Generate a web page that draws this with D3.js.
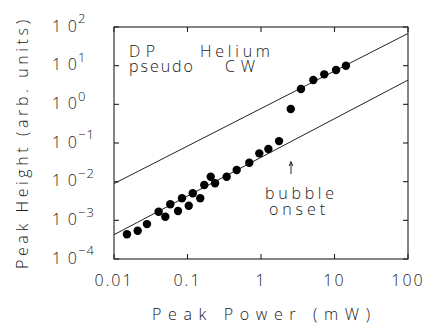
<!DOCTYPE html>
<html>
<head>
<meta charset="utf-8">
<script src="https://cdn.jsdelivr.net/npm/d3@7"></script>
<style>
  body { margin: 0; background: #fff; }
  svg { display: block; }
  text { font-family: "Open Sans", "DejaVu Sans", sans-serif; font-weight: 300; fill: #1a1a1a; }
</style>
</head>
<body>
<div id="chart"></div>
<script>
// peak power (mW) and peak height (arb. units)
var power = [0.0150, 0.0210, 0.0281, 0.0405, 0.0499, 0.0583, 0.0743, 0.0841, 0.104, 0.118,
             0.149, 0.169, 0.207, 0.237, 0.341, 0.467, 0.693, 0.948, 1.26, 1.76,
             2.54, 3.50, 5.15, 7.26, 10.5, 14.3];
var height = [4.36e-4, 5.40e-4, 8.0e-4, 1.67e-3, 1.24e-3, 2.60e-3, 1.74e-3, 3.72e-3, 2.39e-3, 5.0e-3,
              3.72e-3, 8.2e-3, 0.0134, 9.1e-3, 0.0134, 0.0200, 0.0309, 0.054, 0.070, 0.112,
              0.757, 2.49, 4.26, 5.97, 7.72, 9.98];

// the two guide lines (endpoints)
var upperLine = [[0.01, 0.0089], [100, 68]];
var lowerLine = [[0.01, 4.25e-4], [100, 4.25]];

var xTicks = [0.01, 0.1, 1, 10, 100];
var xTickLabels = ["0.01", "0.1", "1", "10", "100"];
var yExponents = [-4, -3, -2, -1, 0, 1, 2];

var W = 430, H = 324;
var margin = { left: 114, right: 22, top: 27, bottom: 65 };
var iw = W - margin.left - margin.right;
var ih = H - margin.top - margin.bottom;

var svg = d3.select("#chart").append("svg")
    .attr("width", W)
    .attr("height", H);

var x = d3.scaleLog().domain([0.01, 100]).range([margin.left, margin.left + iw]);
var y = d3.scaleLog().domain([1e-4, 1e2]).range([margin.top + ih, margin.top]);

// ticks on all four sides, pointing in
var tickLen = 5;
var ax = svg.append("g").attr("stroke", "#222").attr("stroke-width", 1.1);
xTicks.forEach(function (t) {
    ax.append("line").attr("x1", x(t)).attr("x2", x(t))
        .attr("y1", margin.top + ih).attr("y2", margin.top + ih - tickLen);
    ax.append("line").attr("x1", x(t)).attr("x2", x(t))
        .attr("y1", margin.top).attr("y2", margin.top + tickLen);
});
yExponents.forEach(function (e) {
    var v = Math.pow(10, e);
    ax.append("line").attr("x1", margin.left).attr("x2", margin.left + tickLen)
        .attr("y1", y(v)).attr("y2", y(v));
    ax.append("line").attr("x1", margin.left + iw).attr("x2", margin.left + iw - tickLen)
        .attr("y1", y(v)).attr("y2", y(v));
});
ax.append("rect")
    .attr("x", margin.left).attr("y", margin.top)
    .attr("width", iw).attr("height", ih)
    .attr("fill", "none");

// x tick labels
svg.selectAll(".xlab")
    .data(xTicks)
    .enter().append("text")
    .attr("class", "xlab")
    .attr("x", function (d) { return x(d); })
    .attr("y", 286)
    .attr("text-anchor", "middle")
    .style("font-size", "16px")
    .style("letter-spacing", "2px")
    .text(function (d, i) { return xTickLabels[i]; });

// y tick labels: 10 with superscript exponent
var ylab = svg.selectAll(".ylab")
    .data(yExponents)
    .enter().append("g")
    .attr("class", "ylab");
ylab.append("text")
    .attr("x", 77)
    .attr("y", function (d) { return y(Math.pow(10, d)) + 4.7; })
    .attr("text-anchor", "end")
    .attr("textLength", 25)
    .style("font-size", "16px")
    .text("10");
ylab.append("text")
    .attr("x", 78)
    .attr("y", function (d) { return y(Math.pow(10, d)) - 3.7; })
    .style("font-size", "13px")
    .style("letter-spacing", "1px")
    .text(function (d) { return d < 0 ? "\u2212" + (-d) : String(d); });

// axis titles
svg.append("text")
    .attr("x", 261).attr("y", 320)
    .attr("text-anchor", "middle")
    .attr("textLength", 218)
    .style("font-size", "16px")
    .text("Peak Power (mW)");
svg.append("text")
    .attr("transform", "translate(28,144.5) rotate(-90)")
    .attr("text-anchor", "middle")
    .attr("textLength", 249)
    .style("font-size", "16px")
    .text("Peak Height (arb. units)");

// guide lines
var line = d3.line()
    .x(function (d) { return x(d[0]); })
    .y(function (d) { return y(d[1]); });
[upperLine, lowerLine].forEach(function (l) {
    svg.append("path")
        .attr("d", line(l))
        .attr("fill", "none")
        .attr("stroke", "#222")
        .attr("stroke-width", 1);
});

// data points
svg.selectAll(".dot")
    .data(power)
    .enter().append("circle")
    .attr("class", "dot")
    .attr("cx", function (d) { return x(d); })
    .attr("cy", function (d, i) { return y(height[i]); })
    .attr("r", 4.2)
    .attr("fill", "#000");

// two-line labels inside the plot (one text element each)
function label(lines) {
    var t = svg.append("text").style("font-size", "16px");
    lines.forEach(function (l) {
        t.append("tspan")
            .attr("x", l[1]).attr("y", l[2])
            .attr("textLength", l[3])
            .text(l[0]);
    });
}
label([["DP", 129, 57, 26], ["pseudo", 129, 72, 64]]);
label([["Helium", 200, 57, 70], ["CW", 225, 72, 30]]);
label([["bubble", 265, 199, 69], ["onset", 269, 215, 56]]);

// bubble onset arrow
var arrowX = x(2.56);
svg.append("line")
    .attr("x1", arrowX).attr("x2", arrowX)
    .attr("y1", 174).attr("y2", 162)
    .attr("stroke", "#222").attr("stroke-width", 1);
svg.append("path")
    .attr("d", "M" + (arrowX - 1.8) + ",166 L" + arrowX + ",161.5 L" + (arrowX + 1.8) + ",166")
    .attr("fill", "none").attr("stroke", "#222").attr("stroke-width", 1);
</script>
</body>
</html>
